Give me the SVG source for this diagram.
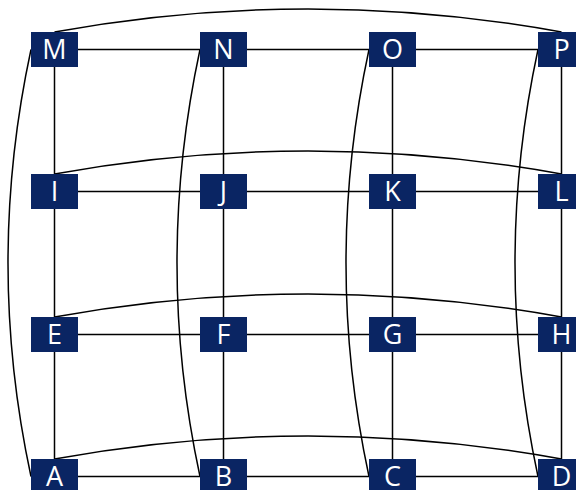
<svg xmlns="http://www.w3.org/2000/svg" width="576" height="490" viewBox="0 0 576 490">
<style>
.n rect{fill:#0a2563}
.n text{fill:#fff;font-family:"Open Sans","Liberation Sans",sans-serif;font-size:27px;text-anchor:middle}
.c path,.c line{stroke:#000;stroke-width:1.5;fill:none}
</style>
<rect width="576" height="490" fill="#fff"/>
<g id="connectors" class="c">
<line x1="54.5" y1="49.5" x2="561.5" y2="49.5"/>
<line x1="54.5" y1="191.5" x2="561.5" y2="191.5"/>
<line x1="54.5" y1="334.5" x2="561.5" y2="334.5"/>
<line x1="54.5" y1="476.5" x2="561.5" y2="476.5"/>
<line x1="54.5" y1="49.5" x2="54.5" y2="476.5"/>
<line x1="223.5" y1="49.5" x2="223.5" y2="476.5"/>
<line x1="392.5" y1="49.5" x2="392.5" y2="476.5"/>
<line x1="561.5" y1="49.5" x2="561.5" y2="476.5"/>
<path d="M54.5,32 Q308,-14 561.5,32"/>
<path d="M54.5,174 Q308,128 561.5,174"/>
<path d="M54.5,317 Q308,271 561.5,317"/>
<path d="M54.5,459 Q308,413 561.5,459"/>
<path d="M31,49.5 Q-15,263 31,476.5"/>
<path d="M200,49.5 Q154,263 200,476.5"/>
<path d="M369,49.5 Q323,263 369,476.5"/>
<path d="M538,49.5 Q492,263 538,476.5"/>
</g>
<g id="M" class="n"><rect x="31" y="32" width="47" height="35"/><text x="54.5" y="59.2">M</text></g>
<g id="N" class="n"><rect x="200" y="32" width="47" height="35"/><text x="223.5" y="59.2">N</text></g>
<g id="O" class="n"><rect x="369" y="32" width="47" height="35"/><text x="392.5" y="59.2">O</text></g>
<g id="P" class="n"><rect x="538" y="32" width="47" height="35"/><text x="561.5" y="59.2">P</text></g>
<g id="I" class="n"><rect x="31" y="174" width="47" height="35"/><text x="54.5" y="201.2">I</text></g>
<g id="J" class="n"><rect x="200" y="174" width="47" height="35"/><text x="223.5" y="201.2">J</text></g>
<g id="K" class="n"><rect x="369" y="174" width="47" height="35"/><text x="392.5" y="201.2">K</text></g>
<g id="L" class="n"><rect x="538" y="174" width="47" height="35"/><text x="561.5" y="201.2">L</text></g>
<g id="E" class="n"><rect x="31" y="317" width="47" height="35"/><text x="54.5" y="344.2">E</text></g>
<g id="F" class="n"><rect x="200" y="317" width="47" height="35"/><text x="223.5" y="344.2">F</text></g>
<g id="G" class="n"><rect x="369" y="317" width="47" height="35"/><text x="392.5" y="344.2">G</text></g>
<g id="H" class="n"><rect x="538" y="317" width="47" height="35"/><text x="561.5" y="344.2">H</text></g>
<g id="A" class="n"><rect x="31" y="459" width="47" height="35"/><text x="54.5" y="486.2">A</text></g>
<g id="B" class="n"><rect x="200" y="459" width="47" height="35"/><text x="223.5" y="486.2">B</text></g>
<g id="C" class="n"><rect x="369" y="459" width="47" height="35"/><text x="392.5" y="486.2">C</text></g>
<g id="D" class="n"><rect x="538" y="459" width="47" height="35"/><text x="561.5" y="486.2">D</text></g>
</svg>
